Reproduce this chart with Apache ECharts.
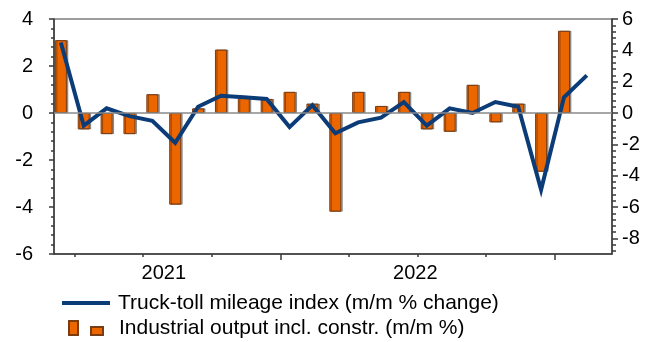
<!DOCTYPE html>
<html>
<head>
<meta charset="utf-8">
<script src="https://cdn.jsdelivr.net/npm/echarts@6/dist/echarts.min.js"></script>
<style>
  html, body { margin: 0; padding: 0; background: #ffffff; }
  #chart { width: 656px; height: 342px; }
</style>
</head>
<body>
<div id="chart"></div>
<script>
// Monthly observations, March 2021 to February 2023
const months = [
  '2021-03', '2021-04', '2021-05', '2021-06', '2021-07', '2021-08',
  '2021-09', '2021-10', '2021-11', '2021-12', '2022-01', '2022-02',
  '2022-03', '2022-04', '2022-05', '2022-06', '2022-07', '2022-08',
  '2022-09', '2022-10', '2022-11', '2022-12', '2023-01', '2023-02'
];

// Industrial output incl. construction, m/m % (left axis); Feb 2023 not yet published
const industrialOutput = [
  3.1, -0.7, -0.9, -0.9, 0.8, -3.9,
  0.2, 2.7, 0.7, 0.6, 0.9, 0.4,
  -4.2, 0.9, 0.3, 0.9, -0.7, -0.8,
  1.2, -0.4, 0.4, -2.5, 3.5, null
];

// Truck-toll mileage index, m/m % change (right axis)
const truckToll = [
  4.5, -0.8, 0.3, -0.2, -0.5, -1.9,
  0.4, 1.1, 1.0, 0.9, -0.9, 0.5,
  -1.3, -0.6, -0.3, 0.7, -0.8, 0.3,
  0.0, 0.7, 0.4, -4.9, 1.0, 2.4
];

const leftTicks = [-6, -4, -2, 0, 2, 4];
const rightTicks = [-8, -6, -4, -2, 0, 2, 4, 6];
const yearLabels = ['2021', '2022'];

const lineName = 'Truck-toll mileage index (m/m % change)';
const barName = 'Industrial output incl. constr. (m/m %)';

const FONT = "'Liberation Sans', Arial, sans-serif";
const AXIS_COLOR = '#3a3a3a';
const LINE_COLOR = '#0c3c78';

// quarter-end boundaries on the month axis; year-end ones get a longer tick
const quarterTicks = [];
const yearTicks = [];
months.forEach((m, i) => {
  const mm = +m.slice(5);
  if (mm % 3 === 0 && i < months.length - 1) {
    if (mm === 12) yearTicks.push(i + 0.6);
    else quarterTicks.push(i + 0.6);
  }
});

// year labels sit in the middle of the months shown for that year
const yearPos = yearLabels.map(y => {
  const idx = months.map((m, i) => m.startsWith(y) ? i : -1).filter(i => i >= 0);
  return (idx[0] + idx[idx.length - 1]) / 2;
});

// short ticks between the labelled values of the right axis
const rightMinor = [];
rightTicks.forEach(t => {
  for (let k = 1; k <= 4; k++) {
    const v = Math.round((t - 0.4 * k) * 10) / 10;
    if (v >= -9 && !rightTicks.includes(v)) rightMinor.push(v);
  }
});

const X_MIN = -0.3, X_MAX = 24.1;

const legendText = { fontFamily: FONT, fontSize: 21, color: '#000', lineHeight: 22, padding: [0, 0, 0, 3] };

const chart = echarts.init(document.getElementById('chart'), null, { renderer: 'canvas' });

chart.setOption({
  animation: false,
  backgroundColor: '#ffffff',
  textStyle: { fontFamily: FONT },
  grid: {
    left: 54, right: 44, top: 19, bottom: 88,
    show: true, borderColor: AXIS_COLOR, borderWidth: 1, backgroundColor: 'transparent'
  },
  legend: [
    {
      left: 62, top: 292, padding: 0,
      itemWidth: 48, itemHeight: 14,
      selectedMode: false,
      textStyle: legendText,
      data: [{ name: lineName, icon: 'path://M0,0M48,14M0,5L48,5L48,9L0,9Z', itemStyle: { color: LINE_COLOR } }]
    },
    {
      left: 62, top: 317, padding: 0,
      itemWidth: 48, itemHeight: 14,
      selectedMode: false,
      textStyle: legendText,
      data: [{ name: barName, icon: 'path://M0,0M48,14M6,0L15,0L15,14L6,14ZM28,6L40,6L40,14L28,14Z' }]
    }
  ],
  xAxis: [
    {
      type: 'value', min: X_MIN, max: X_MAX, position: 'bottom',
      axisLine: { show: true, onZero: false, lineStyle: { color: AXIS_COLOR, width: 1.5 } },
      axisTick: { show: true, customValues: quarterTicks, length: 3, lineStyle: { color: AXIS_COLOR, width: 1.5 } },
      axisLabel: { show: false },
      splitLine: { show: false }
    },
    {
      type: 'value', min: X_MIN, max: X_MAX, position: 'bottom',
      axisLine: { show: false, onZero: false },
      axisTick: { show: true, customValues: yearTicks, length: 6, lineStyle: { color: AXIS_COLOR, width: 1.5 } },
      axisLabel: {
        show: true, customValues: yearPos, margin: 9,
        fontSize: 20, color: '#000', fontFamily: FONT,
        formatter: v => {
          const k = yearPos.findIndex(p => Math.abs(p - v) < 1e-6);
          return k >= 0 ? yearLabels[k] : '';
        }
      },
      splitLine: { show: false }
    }
  ],
  yAxis: [
    {
      type: 'value', position: 'left', min: leftTicks[0], max: leftTicks[leftTicks.length - 1], interval: 2,
      axisLine: { show: true, onZero: false, lineStyle: { color: AXIS_COLOR, width: 1.5 } },
      axisTick: { show: true, length: 5, lineStyle: { color: AXIS_COLOR, width: 1.5 } },
      minorTick: { show: true, splitNumber: 5, length: 3, lineStyle: { color: AXIS_COLOR, width: 1.5 } },
      axisLabel: { fontSize: 20, color: '#000', margin: 21, fontFamily: FONT },
      splitLine: { show: false }
    },
    {
      type: 'value', position: 'right', min: -9, max: 6,
      axisLine: { show: true, onZero: false, lineStyle: { color: AXIS_COLOR, width: 1.5 } },
      axisTick: { show: true, customValues: rightTicks, length: 6, lineStyle: { color: AXIS_COLOR, width: 1.5 } },
      axisLabel: { customValues: rightTicks, fontSize: 20, color: '#000', margin: 10, fontFamily: FONT },
      splitLine: { show: false }
    },
    {
      type: 'value', position: 'right', min: -9, max: 6,
      axisLine: { show: false, onZero: false },
      axisTick: { show: true, customValues: rightMinor, length: 4, lineStyle: { color: AXIS_COLOR, width: 1.5 } },
      axisLabel: { show: false },
      splitLine: { show: false }
    }
  ],
  series: [
    {
      name: barName,
      type: 'bar',
      xAxisIndex: 0,
      yAxisIndex: 0,
      barWidth: 12,
      data: industrialOutput.map((v, i) => [i, v]),
      itemStyle: {
        color: '#ec6600',
        borderColor: '#7a3c12',
        borderWidth: 1,
        shadowColor: 'rgba(0,0,0,0.35)',
        shadowOffsetX: 1.5,
        shadowOffsetY: 0,
        shadowBlur: 0
      },
      markLine: {
        silent: true,
        symbol: 'none',
        label: { show: false },
        lineStyle: { color: '#8a8a8a', width: 1.5, type: 'solid' },
        data: [{ yAxis: 0 }]
      },
      z: 2
    },
    {
      name: lineName,
      type: 'line',
      xAxisIndex: 0,
      yAxisIndex: 1,
      data: truckToll.map((v, i) => [i, v]),
      symbol: 'none',
      showSymbol: false,
      lineStyle: { color: LINE_COLOR, width: 4, join: 'miter' },
      itemStyle: { color: LINE_COLOR },
      z: 3
    }
  ]
});
</script>
</body>
</html>
